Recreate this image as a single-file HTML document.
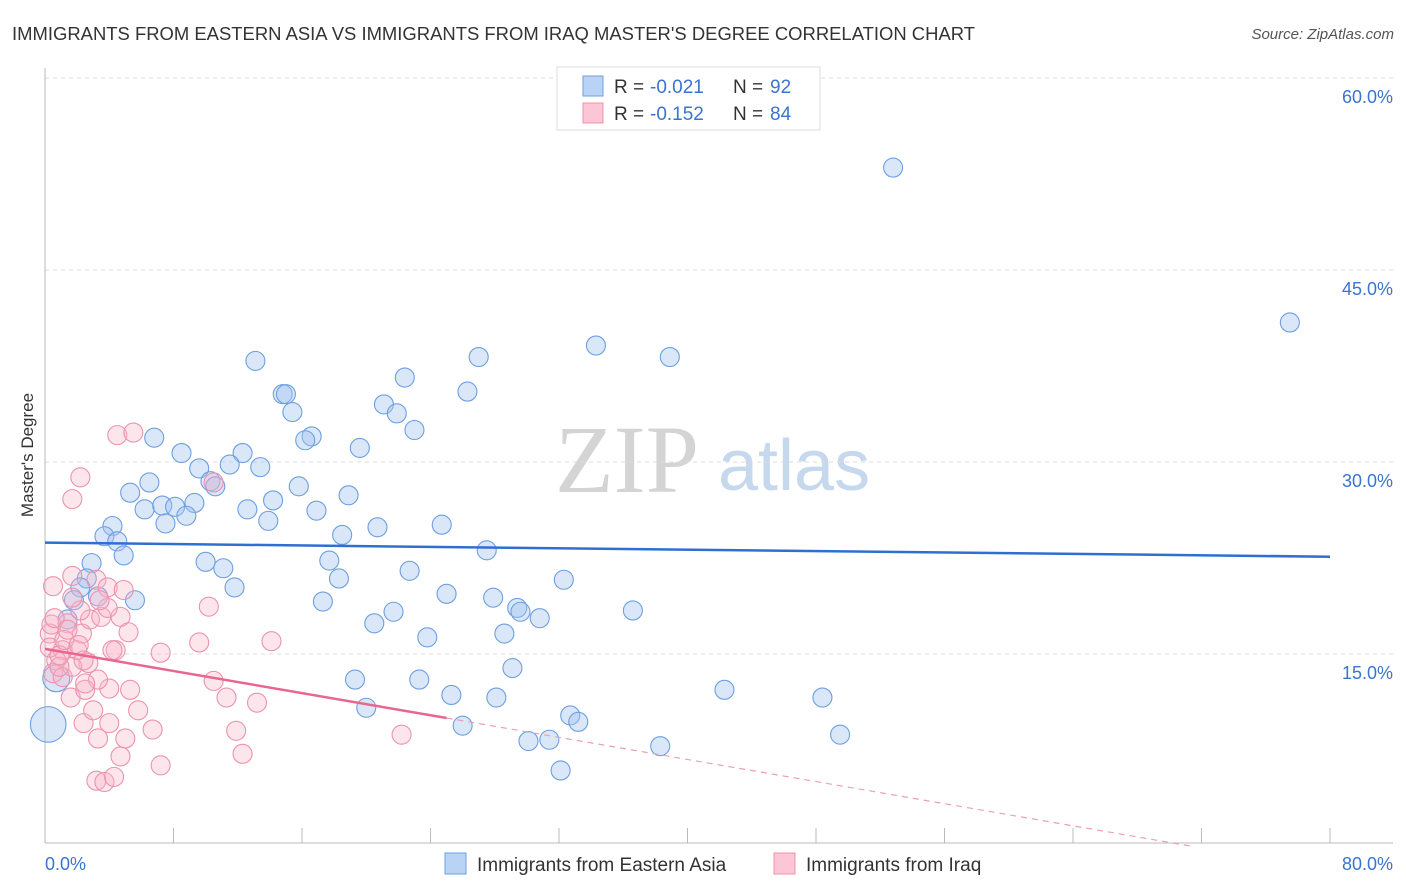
<!DOCTYPE html>
<html><head><meta charset="utf-8"><style>
body{margin:0;background:#fff;font-family:"Liberation Sans",sans-serif;}
svg{display:block}
</style></head><body>
<svg id="chart" width="1406" height="892" xmlns="http://www.w3.org/2000/svg">
<text x="12" y="40" font-size="18" fill="#333" textLength="963" lengthAdjust="spacingAndGlyphs">IMMIGRANTS FROM EASTERN ASIA VS IMMIGRANTS FROM IRAQ MASTER'S DEGREE CORRELATION CHART</text>
<text x="1394" y="39" font-size="15" fill="#555" font-style="italic" text-anchor="end">Source: ZipAtlas.com</text>
<g>
<text x="555" y="492" font-size="96" font-family="Liberation Serif" fill="#d4d4d4">ZIP</text>
<text x="718" y="490" font-size="72" fill="#c5d8ee">atlas</text>
</g>
<g id="grid"></g>
<g id="axes"></g>
<g id="marks"></g>
<text transform="translate(33,455) rotate(-90)" font-size="17" fill="#333" text-anchor="middle">Master's Degree</text>
<g>
<rect x="557" y="67" width="263" height="63" fill="#fff" stroke="#ddd"/>
<rect x="583" y="76" width="20" height="20" fill="#b9d3f5" stroke="#6e9fe0"/>
<rect x="583" y="103" width="20" height="20" fill="#fcc6d6" stroke="#ec93ae"/>
<text x="614" y="93" font-size="19" fill="#333">R =</text>
<text x="650" y="93" font-size="19" fill="#3b73d1">-0.021</text>
<text x="733" y="93" font-size="19" fill="#333">N =</text>
<text x="770" y="93" font-size="19" fill="#3b73d1">92</text>
<text x="614" y="120" font-size="19" fill="#333">R =</text>
<text x="650" y="120" font-size="19" fill="#3b73d1">-0.152</text>
<text x="733" y="120" font-size="19" fill="#333">N =</text>
<text x="770" y="120" font-size="19" fill="#3b73d1">84</text>
</g>
<g>
<rect x="445" y="853" width="21" height="21" fill="#b9d3f5" stroke="#6e9fe0"/>
<text x="477" y="871" font-size="19" fill="#333">Immigrants from Eastern Asia</text>
<rect x="774" y="853" width="21" height="21" fill="#fcc6d6" stroke="#ec93ae"/>
<text x="806" y="871" font-size="19" fill="#333">Immigrants from Iraq</text>
</g>
</svg>
<script>
const blueX=[52.8,77.5,13.1,34.3,38.9,27.0,14.8,15.0,22.4,26.3,15.4,21.1,21.9,23.0,16.6,16.2,6.8,19.6,8.5,12.3,9.6,11.5,13.4,10.3,10.6,5.3,6.5,15.8,18.9,6.2,7.3,8.1,9.3,8.8,12.6,14.2,16.9,7.5,13.9,4.2,20.7,24.7,18.5,3.7,4.5,4.9,2.9,27.5,10.0,17.7,11.1,22.7,18.3,32.3,2.6,2.2,11.8,25.0,27.9,5.6,3.3,1.8,17.3,29.4,29.6,36.6,21.7,30.8,20.5,1.4,28.6,23.8,29.1,19.3,23.3,25.3,28.1,42.3,48.4,20.0,32.7,33.2,26.0,30.1,31.4,38.3,49.5,32.1,0.7,0.2];
const blueY=[53.0,40.9,37.9,39.1,38.2,38.2,35.3,35.3,36.6,35.5,33.9,34.5,33.8,32.5,32.0,31.7,31.9,31.1,30.7,30.7,29.5,29.8,29.6,28.5,28.1,27.6,28.4,28.1,27.4,26.3,26.6,26.5,26.8,25.8,26.3,27.0,26.2,25.2,25.4,25.0,24.9,25.1,24.3,24.2,23.8,22.7,22.1,23.1,22.2,22.3,21.7,21.5,20.9,20.8,20.9,20.2,20.2,19.7,19.4,19.2,19.5,19.2,19.1,18.6,18.3,18.4,18.3,17.8,17.4,17.7,16.6,16.3,13.9,13.0,13.0,11.8,11.6,12.2,11.6,10.8,10.2,9.7,9.4,8.2,8.3,7.8,8.7,5.9,13.1,9.5];
const blueSize=[1,1,1,1,1,1,1,1,1,1,1,1,1,1,1,1,1,1,1,1,1,1,1,1,1,1,1,1,1,1,1,1,1,1,1,1,1,1,1,1,1,1,1,1,1,1,1,1,1,1,1,1,1,1,1,1,1,1,1,1,1,1,1,1,1,1,1,1,1,1,1,1,1,1,1,1,1,1,1,1,1,1,1,1,1,1,1,1,2,3.5];
const pinkX=[4.5,5.5,2.2,1.7,10.5,0.5,1.7,3.2,3.9,4.9,10.2,4.7,5.2,9.6,14.1,7.2,4.4,10.5,11.3,13.2,5.8,6.7,11.9,12.3,7.2,4.7,3.2,3.7,4.3,3.3,4.0,5.0,2.4,3.0,1.6,4.0,3.3,2.5,2.7,2.0,2.3,1.4,2.8,3.5,2.2,3.9,1.7,1.1,0.7,0.3,0.3,0.5,1.1,1.7,0.9,2.4,2.5,22.2,0.4,0.6,0.9,1.2,2.1,3.4,4.2,5.3,1.4];
const pinkY=[32.1,32.3,28.8,27.1,28.4,20.3,21.1,20.8,20.2,20.0,18.7,17.9,16.7,15.9,16.0,15.1,15.3,12.9,11.6,11.2,10.6,9.1,9.0,7.2,6.3,7.0,5.1,5.0,5.4,8.4,9.6,8.4,9.6,10.6,11.6,12.3,13.0,12.2,14.3,15.3,16.6,17.4,17.7,17.9,18.4,18.6,19.4,15.3,14.5,16.6,15.5,13.5,13.2,14.0,14.0,14.5,12.7,8.7,17.3,17.8,14.9,16.1,15.7,19.2,15.3,12.2,16.9];
const blueTrend=[23.7,22.6]; // y at x=0 and x=80
const pinkTrend=[15.4,-0.216]; // intercept, slope
const pinkSolidEnd=25, pinkDashEnd=71.3;
const yTicks=[15,30,45,60];
const xTicks=[0,8,16,24,32,40,48,56,64,72,80];

const X0=45,X1=1330,Y0=846,PPY=192/15;
const sx=v=>X0+(v/80)*(X1-X0);
const sy=v=>Y0-v*PPY;
const NS="http://www.w3.org/2000/svg";
function mk(tag,parent,attrs){const e=document.createElementNS(NS,tag);for(const k in attrs)e.setAttribute(k,attrs[k]);parent.appendChild(e);return e;}
const grid=document.getElementById('grid'),axes=document.getElementById('axes'),marks=document.getElementById('marks');
yTicks.forEach(t=>{
 const l=mk('line',grid,{x1:X0,x2:1393,y1:sy(t),y2:sy(t),stroke:'#ddd','stroke-dasharray':'4,4'});
 
 
 const tx=mk('text',axes,{x:1393,y:sy(t)+25,'font-size':18,fill:'#3b73d1','text-anchor':'end'});
 tx.textContent=t.toFixed(1)+'%';
 
 
});
const ax=mk('line',axes,{x1:X0,x2:X0,y1:68,y2:843,stroke:'#bbb'});


const bx=mk('line',axes,{x1:X0,x2:1393,y1:843,y2:843,stroke:'#bbb'});


xTicks.forEach(t=>{
 const l=mk('line',axes,{x1:sx(t),x2:sx(t),y1:828,y2:843,stroke:'#bbb'});
 
 
});
const xl0=mk('text',axes,{x:45,y:870,'font-size':18,fill:'#3b73d1'});xl0.textContent=xTicks[0].toFixed(1)+'%';


const xl1=mk('text',axes,{x:1393,y:870,'font-size':18,fill:'#3b73d1','text-anchor':'end'});xl1.textContent=xTicks[xTicks.length-1].toFixed(1)+'%';



blueX.forEach((v,i)=>{
 const c=mk('circle',marks,{cx:sx(v),cy:sy(blueY[i]),r:9.5*Math.sqrt(blueSize[i]),fill:'rgba(160,196,240,0.4)',stroke:'#6e9fe0','stroke-width':1.1});
 
 
});
pinkX.forEach((v,i)=>{
 const c=mk('circle',marks,{cx:sx(v),cy:sy(pinkY[i]),r:9.5,fill:'rgba(250,180,200,0.35)',stroke:'#ec93ae','stroke-width':1.1});
 
 
});
const bt=mk('line',marks,{x1:sx(0),y1:sy(blueTrend[0]),x2:sx(80),y2:sy(blueTrend[1]),stroke:'#2f6fcf','stroke-width':2.5});


const pt=mk('line',marks,{x1:sx(0),y1:sy(pinkTrend[0]),x2:sx(pinkSolidEnd),y2:sy(pinkTrend[0]+pinkTrend[1]*pinkSolidEnd),stroke:'#e8668f','stroke-width':2.5});


const pd=mk('line',marks,{x1:sx(pinkSolidEnd),y1:sy(pinkTrend[0]+pinkTrend[1]*pinkSolidEnd),x2:sx(pinkDashEnd),y2:sy(pinkTrend[0]+pinkTrend[1]*pinkDashEnd),stroke:'#e8a0b8','stroke-width':1.2,'stroke-dasharray':'6,5'});


</script>
</body></html>
